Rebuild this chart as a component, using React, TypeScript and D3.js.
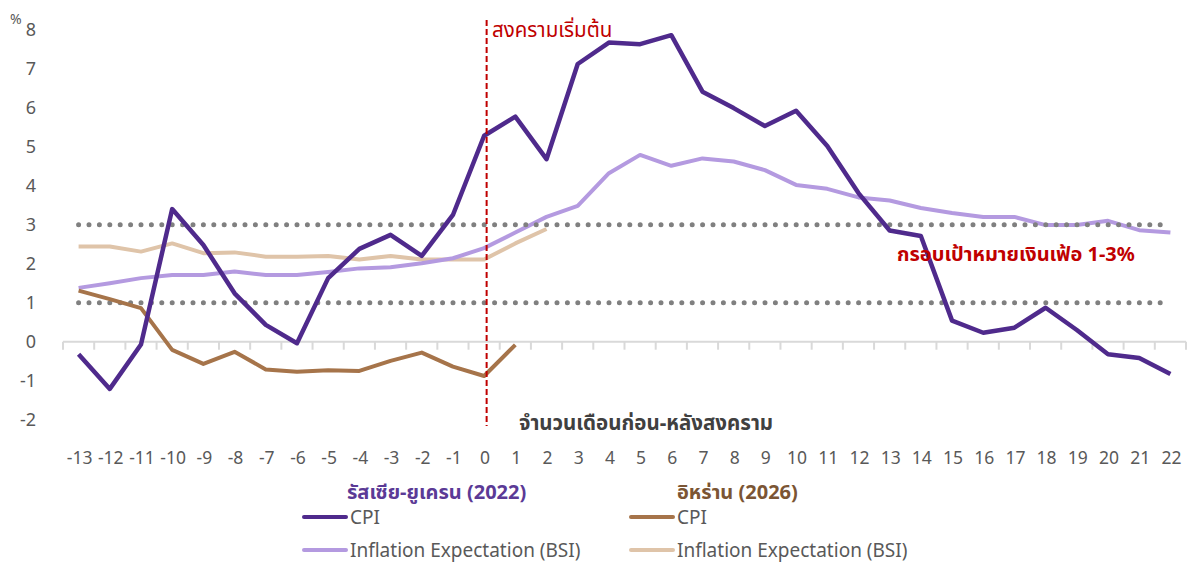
// App.tsx
// CPI and inflation expectation, months before/after war start
import * as d3 from 'd3';
import React from 'react';

const months = [-13, -12, -11, -10, -9, -8, -7, -6, -5, -4, -3, -2, -1, 0, 1, 2, 3, 4, 5, 6, 7, 8, 9, 10, 11, 12, 13, 14, 15, 16, 17, 18, 19, 20, 21, 22];
const yTicks = [-2, -1, 0, 1, 2, 3, 4, 5, 6, 7, 8];

// Russia-Ukraine (2022)
const ruCpi = [-0.32, -1.21, -0.07, 3.40, 2.48, 1.24, 0.43, -0.04, 1.63, 2.38, 2.74, 2.2, 3.25, 5.28, 5.77, 4.68, 7.12, 7.67, 7.63, 7.86, 6.41, 5.99, 5.53, 5.92, 5.02, 3.81, 2.85, 2.71, 0.54, 0.23, 0.36, 0.87, 0.30, -0.32, -0.42, -0.83];
const ruBsi = [1.38, 1.50, 1.63, 1.71, 1.71, 1.80, 1.71, 1.71, 1.79, 1.88, 1.91, 2.01, 2.14, 2.4, 2.8, 3.2, 3.48, 4.32, 4.79, 4.51, 4.70, 4.62, 4.4, 4.02, 3.92, 3.70, 3.62, 3.43, 3.3, 3.2, 3.2, 2.99, 2.99, 3.1, 2.86, 2.8];
// Iran (2026)
const irCpi = [1.31, 1.09, 0.86, -0.21, -0.57, -0.26, -0.71, -0.77, -0.73, -0.75, -0.49, -0.28, -0.64, -0.88, -0.08];
const irBsi = [2.44, 2.44, 2.31, 2.52, 2.27, 2.29, 2.18, 2.18, 2.2, 2.11, 2.2, 2.11, 2.11, 2.11, 2.52, 2.89];

const targetBand = [1, 3];

const W = 1197, H = 563;
const font = "'Noto Sans', 'Noto Sans Thai', Tahoma, sans-serif";
const red = '#c00000';
const grey = '#595959';

function App() {
    const x = d3.scaleBand<number>().domain(months).range([63, 1186]).padding(0);
    const y = d3.scaleLinear().domain([-2, 8]).range([419.7, 29.7]);
    const cx = (m: number) => (x(m) as number) + x.bandwidth() / 2;

    const line = d3.line<number>()
        .x((d, i) => cx(months[i]))
        .y(d => y(d));

    const boundaries = months.map(m => x(m) as number).concat([x.range()[1]]);

    return (
        <svg width={W} height={H} style={{ position: 'absolute', left: 0, top: 0 }} fontFamily={font}>
            <rect width={W} height={H} fill="white" />

            {/* y axis labels */}
            <text x={10} y={24} fontSize={14} fill={grey}>%</text>
            {yTicks.map(t => (
                <text key={t} x={36} y={y(t)} dy="0.35em" textAnchor="end" fontSize={18} fill={grey}>{t}</text>
            ))}

            {/* x axis */}
            <line x1={x.range()[0]} x2={x.range()[1]} y1={y(0)} y2={y(0)} stroke="#d9d9d9" strokeWidth={2} />
            {boundaries.map((b, i) => (
                <line key={i} x1={b} x2={b} y1={y(0)} y2={y(0) + 8} stroke="#d9d9d9" strokeWidth={2} />
            ))}
            {months.map(m => (
                <text key={m} x={cx(m) + 1} y={458} dy="0.35em" textAnchor="middle" fontSize={17.5} fill={grey}>{m}</text>
            ))}
            <text x={646} y={423} dy="0.35em" textAnchor="middle" fontSize={20.5} fontWeight="bold" fill="#404040">จำนวนเดือนก่อน-หลังสงคราม</text>

            {/* lines */}
            <path d={line(irBsi) as string} fill="none" stroke="#dfc4a9" strokeWidth={4} strokeLinejoin="round" />
            <path d={line(ruBsi) as string} fill="none" stroke="#b49ae0" strokeWidth={4} strokeLinejoin="round" />

            {/* target band 1-3% */}
            {targetBand.map(v => (
                <line key={v} x1={cx(months[0])} x2={cx(months[months.length - 1])} y1={y(v)} y2={y(v)}
                    stroke="#808080" strokeWidth={5} strokeLinecap="round" strokeDasharray="0 10.4" />
            ))}

            <path d={line(irCpi) as string} fill="none" stroke="#a6744a" strokeWidth={4} strokeLinejoin="round" />
            <path d={line(ruCpi) as string} fill="none" stroke="#4f2a8c" strokeWidth={4.5} strokeLinejoin="round" />

            {/* war start */}
            <line x1={cx(0) + 2.5} x2={cx(0) + 2.5} y1={20} y2={426} stroke={red} strokeWidth={2} strokeDasharray="6 3" />
            <text x={492} y={30} dy="0.35em" fontSize={20.5} fill={red}>สงครามเริ่มต้น</text>
            <text x={897} y={254} dy="0.35em" fontSize={20} fontWeight="bold" fill={red}>กรอบเป้าหมายเงินเฟ้อ 1-3%</text>

            {/* legend */}
            <text x={347} y={492} dy="0.35em" fontSize={20} fontWeight="bold" fill="#5b3a96">รัสเซีย-ยูเครน (2022)</text>
            <text x={677} y={492} dy="0.35em" fontSize={20} fontWeight="bold" fill="#7b5534">อิหร่าน (2026)</text>

            <line x1={304} x2={346} y1={517} y2={517} stroke="#4f2a8c" strokeWidth={4} strokeLinecap="round" />
            <text x={350} y={517} dy="0.35em" fontSize={19} fill={grey}>CPI</text>
            <line x1={304} x2={346} y1={550} y2={550} stroke="#b49ae0" strokeWidth={4} strokeLinecap="round" />
            <text x={350} y={550} dy="0.35em" fontSize={19} fill={grey}>Inflation Expectation (BSI)</text>

            <line x1={631} x2={673} y1={517} y2={517} stroke="#a6744a" strokeWidth={4} strokeLinecap="round" />
            <text x={677} y={517} dy="0.35em" fontSize={19} fill={grey}>CPI</text>
            <line x1={631} x2={673} y1={550} y2={550} stroke="#dfc4a9" strokeWidth={4} strokeLinecap="round" />
            <text x={677} y={550} dy="0.35em" fontSize={19} fill={grey}>Inflation Expectation (BSI)</text>
        </svg>
    );
}

export default App;
